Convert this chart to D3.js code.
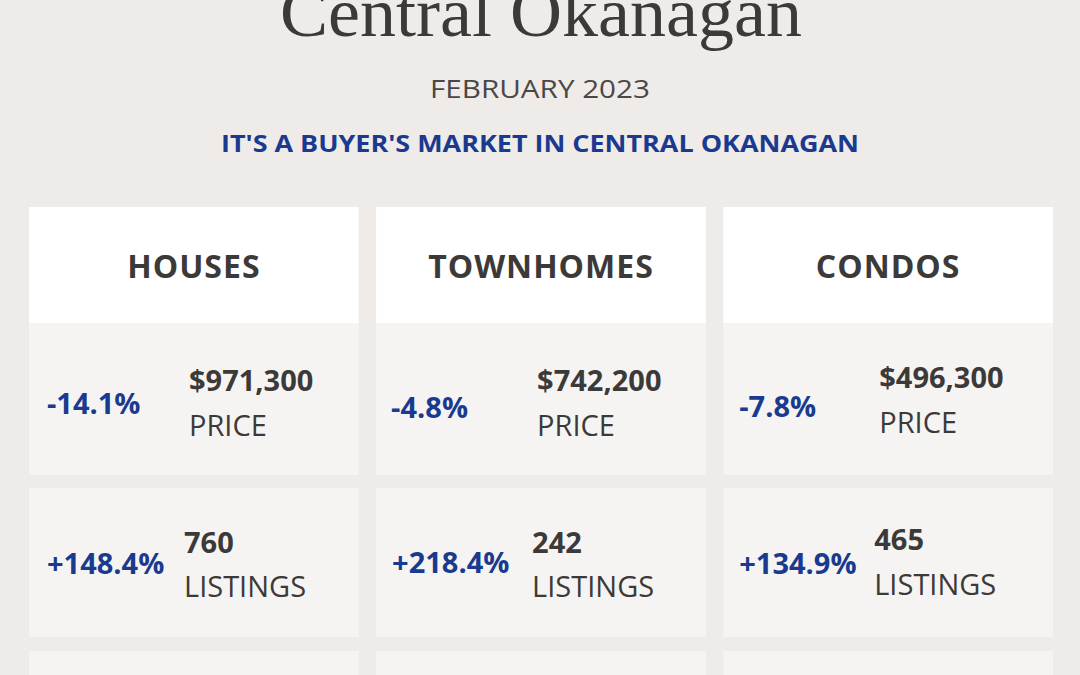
<!DOCTYPE html><html><head><meta charset="utf-8"><script src="https://cdn.jsdelivr.net/npm/d3@7"></script>
<style>body{margin:0;background:#efebe9}</style></head><body><svg id="c" width="1080" height="675"></svg>
<script>
const categories=["HOUSES","TOWNHOMES","CONDOS"];
const priceChange=["-14.1%","-4.8%","-7.8%"];
const prices=["$971,300","$742,200","$496,300"];
const listingChange=["+148.4%","+218.4%","+134.9%"];
const listings=["760","242","465"];
const svg=d3.select("#c");
svg.append("rect").attr("width",1080).attr("height",675).attr("fill","#efebe9");
svg.append("text").attr("x",541).attr("y",36).attr("text-anchor","middle").attr("font-family","Liberation Serif").attr("font-size",70).attr("textLength",522).attr("lengthAdjust","spacingAndGlyphs").attr("fill","#3c3a38").text("Central Okanagan");
svg.append("text").attr("x",540).attr("y",98).attr("text-anchor","middle").attr("font-family","Open Sans").attr("font-size",25).attr("textLength",220).attr("lengthAdjust","spacingAndGlyphs").attr("fill","#4a4846").text("FEBRUARY 2023");
svg.append("text").attr("x",540).attr("y",152).attr("text-anchor","middle").attr("font-family","Open Sans").attr("font-weight",700).attr("font-size",23).attr("textLength",638).attr("lengthAdjust","spacingAndGlyphs").attr("fill","#1a3a8f").text("IT'S A BUYER'S MARKET IN CENTRAL OKANAGAN");
const x=d3.scaleBand().domain(categories).range([29,1053]).paddingInner(0.05);
const g=svg.selectAll("g.col").data(categories).join("g").attr("transform",d=>`translate(${x(d)},0)`);
const w=x.bandwidth();
g.append("rect").attr("y",207).attr("width",w).attr("height",116).attr("fill","#ffffff");
g.append("text").attr("x",w/2).attr("y",278).attr("text-anchor","middle").attr("font-family","Open Sans").attr("font-weight",700).attr("font-size",32).attr("fill","#3c3a38").attr("letter-spacing",1).text(d=>d);
g.append("rect").attr("y",323).attr("width",w).attr("height",152).attr("fill","#f6f4f3");
g.append("rect").attr("y",488).attr("width",w).attr("height",149).attr("fill","#f6f4f3");
g.append("rect").attr("y",651).attr("width",w).attr("height",40).attr("fill","#f6f4f3");
const bl=(sel,y,dx,txt,sz,wt,col)=>sel.append("text").attr("x",dx).attr("y",y).attr("font-family","Open Sans").attr("font-weight",wt).attr("font-size",sz).attr("fill",col).text(txt);
g.each(function(d,i){const s=d3.select(this);
 bl(s,[414,418,417][i],[18,15,16][i],priceChange[i],29,700,"#1a3a8f");
 bl(s,[391,391,388][i],[160,161,156][i],prices[i],29,700,"#3c3a38");
 bl(s,[436,436,433][i],[160,161,156][i],"PRICE",29,400,"#3c3a38");
 bl(s,[574,573,574][i],[18,16,16][i],listingChange[i],29,700,"#1a3a8f");
 bl(s,[553,553,550][i],[155,156,151][i],listings[i],29,700,"#3c3a38");
 bl(s,[597,597,595][i],[155,156,151][i],"LISTINGS",29,400,"#3c3a38");
});
</script></body></html>
